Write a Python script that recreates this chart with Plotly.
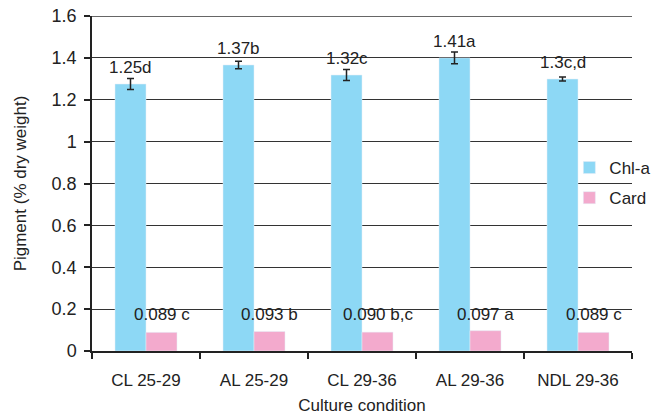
import plotly.graph_objects as go

categories = ["CL 25-29", "AL 25-29", "CL 29-36", "AL 29-36", "NDL 29-36"]
chla_values = [1.275, 1.366, 1.318, 1.400, 1.299]
chla_errors = [0.026, 0.018, 0.026, 0.028, 0.010]
chla_labels = ["1.25d", "1.37b", "1.32c", "1.41a", "1.3c,d"]
card_values = [0.089, 0.093, 0.090, 0.097, 0.089]
card_labels = ["0.089 c", "0.093 b", "0.090 b,c", "0.097 a", "0.089 c"]
y_ticks = [0, 0.2, 0.4, 0.6, 0.8, 1, 1.2, 1.4, 1.6]
y_tick_text = ["0", "0.2", "0.4", "0.6", "0.8", "1", "1.2", "1.4", "1.6"]

FONT = "Liberation Sans, Arial, sans-serif"
fig = go.Figure()
fig.add_trace(go.Bar(
    x=categories, y=chla_values, name="Chl-a", marker_color="#8dd8f5",
    legendgroup="a",
    error_y=dict(type="data", array=chla_errors, color="#222222", thickness=1.5, width=3.5),
))
fig.add_trace(go.Bar(
    x=categories, y=card_values, name="Card", marker_color="#f3aacd",
    legendgroup="b",
))

for i, c in enumerate(categories):
    fig.add_annotation(x=c, y=chla_values[i], text=chla_labels[i], showarrow=False,
                       xshift=-15.5, yshift=5, yanchor="bottom",
                       font=dict(family=FONT, size=17, color="#222222"))
    fig.add_annotation(x=c, y=0.175, text=card_labels[i], showarrow=False,
                       xshift=15.5, yanchor="middle",
                       font=dict(family=FONT, size=17, color="#222222"))

fig.update_layout(
    width=652, height=415,
    margin=dict(l=92, r=20, t=16, b=64, autoexpand=False),
    paper_bgcolor="white", plot_bgcolor="white",
    barmode="group", bargap=0.426, bargroupgap=0,
    font=dict(family=FONT, size=17, color="#222222"),
    legend=dict(x=0.884, y=0.600, xanchor="left", yanchor="top",
                bgcolor="rgba(0,0,0,0)", font=dict(size=17), itemwidth=30,
                traceorder="grouped", tracegroupgap=5),
    showlegend=True,
)
fig.update_xaxes(
    showline=True, linecolor="#222222", linewidth=1.5,
    ticks="outside", tickson="boundaries", ticklen=6, tickcolor="#222222", tickwidth=1.5,
    ticklabelstandoff=13,
    title=dict(text="Culture condition", font=dict(size=17), standoff=11),
    tickfont=dict(size=17),
)
fig.update_yaxes(
    range=[0, 1.6], tickvals=y_ticks, ticktext=y_tick_text,
    showline=True, linecolor="#222222", linewidth=1.5,
    ticks="outside", ticklen=6, tickcolor="#222222", tickwidth=1.5,
    ticklabelstandoff=4, ticklabeloverflow="allow",
    showgrid=True, gridcolor="#333333", gridwidth=1.2,
    zeroline=False,
    title=dict(text="Pigment (% dry weight)", font=dict(size=17), standoff=21),
    tickfont=dict(size=18),
)
fig.add_shape(type="line", xref="paper", yref="y", x0=0, x1=1, y0=1.6, y1=1.6,
              line=dict(color="#666666", width=2))

fig.write_html(
    "out.html",
    config={"displayModeBar": False},
    post_script="document.body.style.margin='0';document.body.style.overflow='hidden';",
)
